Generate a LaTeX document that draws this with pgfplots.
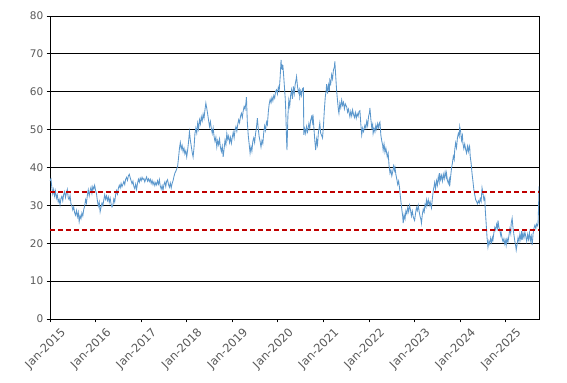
\documentclass[border=0pt]{standalone}
\usepackage{pgfplots}
\pgfplotsset{compat=1.18}
\usepackage{fontspec}
\setmainfont{DejaVu Sans}
\usetikzlibrary{calc}
\definecolor{lineblue}{HTML}{5B97CC}
\definecolor{dred}{HTML}{C00000}
\definecolor{lbl}{HTML}{595959}
\begin{document}
\begin{tikzpicture}
\begin{axis}[
  scale only axis, width=489pt, height=303pt,
  xmin=2015, xmax=2025.73, ymin=0, ymax=80,
  ytick={0,10,...,80},
  xtick={2015,2016,2017,2018,2019,2020,2021,2022,2023,2024,2025},
  xticklabels={Jan-2015,Jan-2016,Jan-2017,Jan-2018,Jan-2019,Jan-2020,Jan-2021,Jan-2022,Jan-2023,Jan-2024,Jan-2025},
  ymajorgrids, major grid style={black, line width=0.8pt},
  axis line style={black, line width=0.8pt},
  tick style={black, line width=0.8pt},
  tick align=outside, major tick length=3.5pt,
  xtick pos=bottom, ytick pos=left,
  /pgf/number format/assume math mode=true,
  ticklabel style={font=\fontsize{10.5}{12}\selectfont, text=lbl},
  xticklabel style={font=\fontsize{11.5}{13}\selectfont, rotate=45, anchor=north east, inner sep=1pt, xshift=5pt, yshift=-9pt},
  yticklabel style={inner sep=2pt, xshift=-1pt},
  clip=true,
]
\addplot[lineblue, line width=0.85pt] coordinates {
(2015.00,36.5)(2015.02,37.0)(2015.04,34.8)(2015.06,33.0)(2015.08,34.2)(2015.10,32.5)(2015.12,33.8)(2015.14,31.9)(2015.16,32.8)(2015.18,30.9)(2015.20,31.6)(2015.22,30.1)(2015.24,31.8)(2015.26,32.4)(2015.28,31.2)(2015.30,32.9)(2015.32,33.6)(2015.34,32.1)(2015.36,33.3)(2015.38,34.2)(2015.40,32.0)(2015.42,31.5)(2015.44,32.6)(2015.46,30.4)(2015.48,29.9)(2015.50,28.8)(2015.52,29.6)(2015.54,28.1)(2015.56,27.4)(2015.58,28.6)(2015.60,27.0)(2015.62,28.2)(2015.64,25.7)(2015.66,27.3)(2015.68,26.5)(2015.70,28.0)(2015.72,27.2)(2015.74,28.9)(2015.76,29.8)(2015.78,31.5)(2015.80,30.6)(2015.82,32.7)(2015.84,34.1)(2015.86,32.5)(2015.88,33.9)(2015.90,34.8)(2015.92,33.2)(2015.94,35.0)(2015.96,34.3)(2015.98,35.3)
(2016.00,34.0)(2016.02,33.1)(2016.04,31.2)(2016.06,29.8)(2016.08,30.9)(2016.10,28.3)(2016.12,29.5)(2016.14,30.6)(2016.16,29.9)(2016.18,31.4)(2016.20,32.8)(2016.22,31.6)(2016.24,32.5)(2016.26,31.3)(2016.28,32.2)(2016.30,30.8)(2016.32,31.9)(2016.34,30.4)(2016.36,29.6)(2016.38,30.1)(2016.40,31.7)(2016.42,30.9)(2016.44,32.8)(2016.46,33.9)(2016.48,33.0)(2016.50,34.5)(2016.52,35.3)(2016.54,34.6)(2016.56,35.8)(2016.58,34.9)(2016.60,35.6)(2016.62,36.3)(2016.64,35.5)(2016.66,36.9)(2016.68,37.4)(2016.70,36.6)(2016.72,37.8)(2016.74,38.2)(2016.76,37.3)(2016.78,36.5)(2016.80,35.7)(2016.82,36.4)(2016.84,35.0)(2016.86,34.4)(2016.88,35.6)(2016.90,34.2)(2016.92,35.8)(2016.94,36.9)(2016.96,36.1)(2016.98,37.2)
(2017.00,36.5)(2017.02,37.4)(2017.04,36.8)(2017.06,37.1)(2017.08,36.2)(2017.10,36.9)(2017.12,37.5)(2017.14,36.4)(2017.16,37.0)(2017.18,36.3)(2017.20,36.9)(2017.22,35.8)(2017.24,36.6)(2017.26,35.5)(2017.28,36.2)(2017.30,35.2)(2017.32,36.0)(2017.34,35.4)(2017.36,36.5)(2017.38,35.6)(2017.40,36.8)(2017.42,35.1)(2017.44,34.3)(2017.46,35.2)(2017.48,34.0)(2017.50,35.5)(2017.52,36.2)(2017.54,35.0)(2017.56,36.4)(2017.58,36.8)(2017.60,35.5)(2017.62,34.8)(2017.64,35.9)(2017.66,34.6)(2017.68,35.8)(2017.70,36.5)(2017.72,37.6)(2017.74,38.5)(2017.76,39.0)(2017.78,39.6)(2017.80,40.3)(2017.82,42.5)(2017.84,45.0)(2017.86,46.6)(2017.88,44.9)(2017.90,45.8)(2017.92,44.2)(2017.94,45.1)(2017.96,43.6)(2017.98,44.4)
(2018.00,42.8)(2018.02,44.6)(2018.04,46.8)(2018.06,49.4)(2018.08,47.2)(2018.10,45.6)(2018.12,44.0)(2018.14,42.8)(2018.16,45.2)(2018.18,48.9)(2018.20,50.4)(2018.22,49.1)(2018.24,51.7)(2018.26,50.2)(2018.28,52.6)(2018.30,51.5)(2018.32,53.4)(2018.34,52.3)(2018.36,54.1)(2018.38,53.0)(2018.40,55.2)(2018.42,57.0)(2018.44,55.6)(2018.46,54.1)(2018.48,52.4)(2018.50,50.8)(2018.52,52.1)(2018.54,50.3)(2018.56,49.0)(2018.58,50.4)(2018.60,48.2)(2018.62,46.9)(2018.64,48.0)(2018.66,45.4)(2018.68,47.1)(2018.70,46.0)(2018.72,47.5)(2018.74,45.3)(2018.76,44.2)(2018.78,45.6)(2018.80,42.8)(2018.82,44.9)(2018.84,47.2)(2018.86,46.0)(2018.88,49.0)(2018.90,47.4)(2018.92,48.3)(2018.94,46.6)(2018.96,47.9)(2018.98,46.4)
(2019.00,48.0)(2019.02,49.3)(2019.04,47.8)(2019.06,49.9)(2019.08,50.8)(2019.10,49.6)(2019.12,51.4)(2019.14,52.6)(2019.16,51.8)(2019.18,53.5)(2019.20,54.3)(2019.22,53.2)(2019.24,55.0)(2019.26,56.1)(2019.28,55.4)(2019.30,57.2)(2019.31,58.6)(2019.33,52.0)(2019.35,48.5)(2019.37,46.2)(2019.39,43.8)(2019.41,45.5)(2019.43,44.3)(2019.45,46.9)(2019.47,47.8)(2019.49,46.6)(2019.51,48.9)(2019.53,50.5)(2019.55,53.0)(2019.57,50.2)(2019.59,48.1)(2019.61,46.9)(2019.63,45.4)(2019.65,47.1)(2019.67,46.3)(2019.69,49.2)(2019.71,51.0)(2019.73,49.8)(2019.75,52.0)(2019.77,51.3)(2019.79,54.6)(2019.81,56.8)(2019.83,58.0)(2019.85,57.1)(2019.87,58.5)(2019.89,57.6)(2019.91,59.0)(2019.93,58.3)(2019.95,60.1)(2019.97,60.5)(2019.99,59.4)
(2020.01,61.2)(2020.03,60.4)(2020.05,63.8)(2020.07,68.4)(2020.08,66.0)(2020.09,67.3)(2020.10,65.8)(2020.11,67.0)(2020.12,65.4)(2020.14,62.0)(2020.16,58.5)(2020.17,56.0)(2020.18,52.0)(2020.19,47.5)(2020.20,44.6)(2020.21,49.0)(2020.22,53.5)(2020.24,57.8)(2020.26,56.2)(2020.28,59.0)(2020.30,60.5)(2020.32,58.1)(2020.34,61.4)(2020.36,59.5)(2020.38,62.0)(2020.40,63.2)(2020.41,64.0)(2020.43,61.5)(2020.45,59.8)(2020.47,60.6)(2020.48,58.6)(2020.50,60.2)(2020.52,59.0)(2020.54,60.8)(2020.56,61.0)(2020.57,48.6)(2020.59,50.2)(2020.61,49.0)(2020.63,50.8)(2020.65,49.4)(2020.66,50.0)(2020.68,51.6)(2020.70,50.3)(2020.72,52.5)(2020.74,53.4)(2020.76,52.0)(2020.77,54.0)(2020.79,50.5)(2020.81,47.2)(2020.83,44.6)(2020.85,47.5)(2020.87,46.0)(2020.89,49.3)(2020.91,50.8)(2020.92,51.7)(2020.94,49.0)(2020.96,48.5)(2020.98,47.8)
(2021.00,51.0)(2021.02,55.2)(2021.04,58.6)(2021.06,60.4)(2021.07,62.0)(2021.09,59.5)(2021.11,61.8)(2021.13,60.2)(2021.14,63.0)(2021.16,62.1)(2021.18,64.5)(2021.20,63.4)(2021.22,65.8)(2021.24,66.5)(2021.25,68.0)(2021.27,64.0)(2021.29,60.2)(2021.31,57.5)(2021.33,55.0)(2021.34,54.3)(2021.36,57.0)(2021.38,55.8)(2021.40,57.8)(2021.42,56.4)(2021.44,57.2)(2021.46,55.5)(2021.48,56.8)(2021.51,56.0)(2021.53,54.6)(2021.55,55.4)(2021.58,53.4)(2021.60,54.8)(2021.62,53.6)(2021.64,55.2)(2021.66,54.0)(2021.68,53.2)(2021.70,54.5)(2021.72,53.0)(2021.74,54.2)(2021.76,53.5)(2021.78,54.8)(2021.80,55.0)(2021.82,51.5)(2021.84,48.6)(2021.86,50.4)(2021.88,49.5)(2021.91,51.2)(2021.93,50.4)(2021.95,52.2)(2021.97,51.0)(2021.99,53.5)
(2022.01,54.5)(2022.02,55.7)(2022.04,52.8)(2022.06,50.5)(2022.08,51.4)(2022.09,49.0)(2022.11,50.3)(2022.13,49.4)(2022.15,51.2)(2022.17,50.1)(2022.19,51.6)(2022.21,50.5)(2022.23,51.8)(2022.24,52.0)(2022.26,48.5)(2022.28,47.0)(2022.30,45.8)(2022.31,44.6)(2022.33,46.2)(2022.35,44.0)(2022.37,45.1)(2022.39,43.6)(2022.40,42.8)(2022.42,43.8)(2022.44,40.5)(2022.46,38.5)(2022.48,39.4)(2022.50,37.8)(2022.52,38.9)(2022.54,40.4)(2022.56,39.2)(2022.57,40.0)(2022.59,38.1)(2022.61,36.9)(2022.63,35.5)(2022.65,36.4)(2022.67,34.6)(2022.68,33.3)(2022.70,31.0)(2022.72,28.9)(2022.74,27.0)(2022.75,25.3)(2022.77,27.5)(2022.79,26.4)(2022.81,28.6)(2022.83,27.8)(2022.85,29.5)(2022.87,28.3)(2022.89,30.0)(2022.91,28.8)(2022.93,27.2)(2022.95,28.5)(2022.97,27.0)(2022.99,26.3)
(2023.00,26.0)(2023.02,27.8)(2023.04,29.4)(2023.06,28.6)(2023.08,30.0)(2023.10,28.4)(2023.12,27.1)(2023.14,26.2)(2023.15,25.3)(2023.17,27.6)(2023.19,29.0)(2023.21,28.2)(2023.23,30.3)(2023.25,29.6)(2023.26,31.4)(2023.28,30.2)(2023.30,31.5)(2023.32,30.0)(2023.34,31.0)(2023.36,29.8)(2023.37,29.3)(2023.39,31.8)(2023.41,33.9)(2023.43,35.2)(2023.44,36.0)(2023.46,34.4)(2023.48,36.5)(2023.50,35.3)(2023.52,37.6)(2023.54,36.2)(2023.55,38.5)(2023.57,36.8)(2023.59,37.9)(2023.61,36.4)(2023.63,38.2)(2023.65,37.0)(2023.67,38.8)(2023.69,37.5)(2023.70,38.5)(2023.72,36.6)(2023.74,35.8)(2023.76,36.9)(2023.77,35.0)(2023.79,37.5)(2023.81,39.8)(2023.83,41.2)(2023.85,43.0)(2023.87,42.1)(2023.88,44.6)(2023.90,46.5)(2023.92,45.2)(2023.94,47.8)(2023.96,49.0)(2023.98,48.2)
(2023.99,50.8)(2024.01,49.5)(2024.03,47.2)(2024.05,48.4)(2024.06,46.4)(2024.08,45.0)(2024.10,46.2)(2024.12,44.8)(2024.14,43.8)(2024.16,45.6)(2024.18,44.2)(2024.20,45.8)(2024.21,45.4)(2024.22,43.0)(2024.24,41.2)(2024.26,38.5)(2024.28,36.4)(2024.30,34.2)(2024.32,32.8)(2024.34,31.5)(2024.36,31.0)(2024.38,30.4)(2024.40,31.2)(2024.42,30.6)(2024.44,31.8)(2024.46,31.0)(2024.48,34.6)(2024.50,33.2)(2024.52,31.5)(2024.54,32.2)(2024.55,29.0)(2024.57,25.3)(2024.59,21.5)(2024.61,19.0)(2024.63,20.6)(2024.65,19.8)(2024.67,21.4)(2024.69,20.2)(2024.71,21.5)(2024.72,20.9)(2024.74,22.8)(2024.76,24.2)(2024.78,23.5)(2024.80,25.0)(2024.82,24.0)(2024.83,26.0)(2024.85,24.2)(2024.87,23.4)(2024.89,22.1)(2024.90,22.7)(2024.92,21.3)(2024.94,20.4)(2024.96,21.2)(2024.98,19.8)
(2025.00,20.8)(2025.01,19.5)(2025.03,21.2)(2025.05,20.3)(2025.07,22.0)(2025.09,23.8)(2025.11,22.6)(2025.12,25.3)(2025.14,26.6)(2025.16,24.0)(2025.18,22.2)(2025.20,20.5)(2025.22,19.2)(2025.23,18.2)(2025.25,19.8)(2025.27,21.5)(2025.29,20.4)(2025.31,22.4)(2025.33,21.0)(2025.35,23.2)(2025.36,20.9)(2025.38,22.6)(2025.40,21.4)(2025.42,23.0)(2025.44,21.8)(2025.46,20.5)(2025.48,22.3)(2025.50,21.0)(2025.52,22.8)(2025.54,20.6)(2025.56,21.9)(2025.58,19.5)(2025.60,22.5)(2025.62,24.0)(2025.64,24.8)(2025.66,23.9)(2025.68,25.1)(2025.70,24.6)(2025.71,25.3)(2025.72,29.5)(2025.73,35.0)
};
\addplot[dred, line width=1.6pt, dash pattern=on 5pt off 3pt] coordinates {(2015,23.5)(2025.73,23.5)};
\addplot[dred, line width=1.6pt, dash pattern=on 5pt off 3pt] coordinates {(2015,33.55)(2025.73,33.55)};
\end{axis}
\pgfresetboundingbox
\useasboundingbox ($(current axis.south west)+(-50pt,-64pt)$) rectangle ($(current axis.north east)+(28pt,16pt)$);
\end{tikzpicture}
\end{document}
